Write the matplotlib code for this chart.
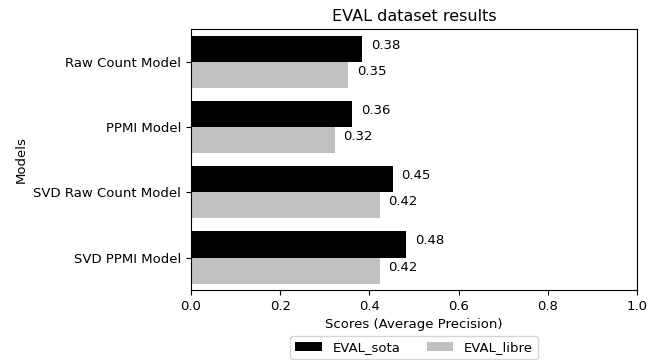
import numpy as np
import matplotlib
matplotlib.use("Agg")
import matplotlib.pyplot as plt

# model isimleri ve skorlar
models = ["Raw Count Model", "PPMI Model", "SVD Raw Count Model", "SVD PPMI Model"]
eval_sota = [0.383, 0.362, 0.452, 0.483]
eval_libre = [0.353, 0.322, 0.423, 0.423]
sota_labels = ["0.38", "0.36", "0.45", "0.48"]
libre_labels = ["0.35", "0.32", "0.42", "0.42"]

plt.rcParams["font.size"] = 9.5

fig = plt.figure(figsize=(6.62, 3.6), dpi=100)
ax = fig.add_axes([0.2885, 0.194, 0.6735, 0.725])

y = np.arange(len(models))
h = 0.4

bars1 = ax.barh(y - h / 2, eval_sota, height=h, color="black", label="EVAL_sota")
bars2 = ax.barh(y + h / 2, eval_libre, height=h, color="silver", label="EVAL_libre")

# deger etiketleri, bar sonuna biraz bosluk birakarak
for bars, labels in [(bars1, sota_labels), (bars2, libre_labels)]:
    for b, txt in zip(bars, labels):
        ax.text(b.get_width() + 0.02, b.get_y() + b.get_height() / 2, txt)

ax.set_yticks(y)
ax.set_yticklabels(models)
ax.set_ylim(3.5, -0.5)
ax.set_xlim(0, 1)
ax.set_xlabel("Scores (Average Precision)")
ax.set_ylabel("Models")
ax.set_title("EVAL dataset results", fontsize=11.5)

ax.legend(loc="upper center", bbox_to_anchor=(0.5, -0.15), ncol=2)

fig.savefig("out.png", dpi=100)
